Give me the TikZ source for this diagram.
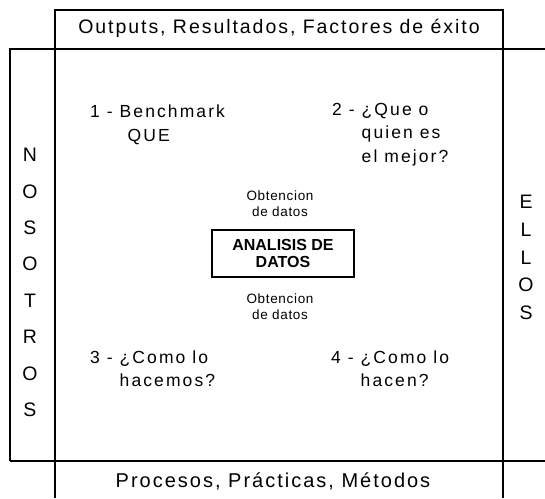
\documentclass[tikz,border=0pt]{standalone}
\usepackage{fontspec}
\setmainfont{Liberation Sans}
\newfontfamily\hdrfont[LetterSpace=10]{Liberation Sans}
\newfontfamily\quadfont[LetterSpace=12]{Liberation Sans}
\newfontfamily\smallfont[LetterSpace=5]{Liberation Sans}
\begin{document}
\begin{tikzpicture}[x=1pt,y=-1pt,
  frame/.style={line width=1.6pt},
  hdr/.style={inner sep=0pt,anchor=base,font=\hdrfont\fontsize{19.5}{22}\selectfont},
  ftr/.style={inner sep=0pt,anchor=base,font=\hdrfont\fontsize{20}{22}\selectfont},
  vert/.style={inner sep=0pt,align=center,font=\hdrfont\fontsize{19.5}{36.4}\selectfont},
  vertb/.style={inner sep=0pt,align=center,font=\hdrfont\fontsize{19.5}{27.75}\selectfont},
  quad/.style={inner sep=0pt,anchor=base west,font=\quadfont\fontsize{17.5}{23.5}\selectfont},
  obt/.style={inner sep=0pt,align=center,font=\smallfont\fontsize{13.5}{16}\selectfont},
  anbox/.style={draw,line width=1.4pt,minimum width=142pt,minimum height=47pt,inner sep=0pt,align=center,font=\bfseries\fontsize{16}{17}\selectfont}]
\useasboundingbox (0,0) rectangle (545,498);
\draw[frame] (55,498) -- (55,10) -- (503,10) -- (503,498);
\draw[frame] (10,461) -- (10,49) -- (545,49);
\draw[frame] (10,461) -- (545,461);
\node[hdr] (top) at (279,33.4) {Outputs, Resultados, Factores de éxito};
\node[ftr] (bottom) at (273,487) {Procesos, Prácticas, Métodos};
\node[vert] (nos) at (30,282.5) {N\\O\\S\\O\\T\\R\\O\\S};
\node[vertb] (ellos) at (526,257.5) {E\\L\\L\\O\\S};
\node[quad] (q1) at (90,117.5) {\begin{tabular}[t]{@{}l@{}l@{}}1 - \mbox{} & Benchmark\\ & \hspace{8pt}QUE\end{tabular}};
\node[quad] (q2) at (332,115) {\begin{tabular}[t]{@{}l@{}l@{}}2 - \mbox{} & ¿Que o\\ & quien es\\ & el mejor?\end{tabular}};
\node[quad] (q3) at (90,363) {\begin{tabular}[t]{@{}l@{}l@{}}3 - \mbox{} & ¿Como lo\\ & hacemos?\end{tabular}};
\node[quad] (q4) at (331,363) {\begin{tabular}[t]{@{}l@{}l@{}}4 - \mbox{} & ¿Como lo\\ & hacen?\end{tabular}};
\node[obt] (o1) at (280,203.5) {Obtencion\\de datos};
\node[anbox] (ana) at (283,253.3) {ANALISIS DE\\DATOS};
\node[obt] (o2) at (280,306.5) {Obtencion\\de datos};
\end{tikzpicture}
\end{document}
